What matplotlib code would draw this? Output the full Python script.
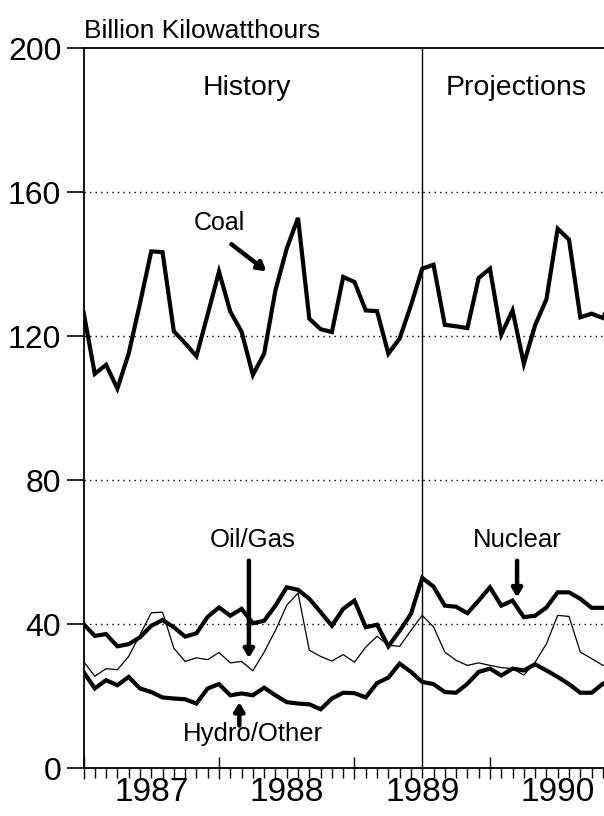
import numpy as np
import matplotlib
matplotlib.use('Agg')
import matplotlib.pyplot as plt
from matplotlib.ticker import FixedLocator

plt.rcParams['font.family'] = ['Liberation Sans', 'DejaVu Sans']

# monthly values, Jan 1987 onward (billion kWh)
coal = [126.7, 109.5, 112.0, 105.4, 115.1, 129.0, 143.5, 143.3, 121.3, 118.0,
        114.4, 126.0, 137.9, 126.8, 121.2, 109.2, 115.1, 132.7, 144.3, 152.8,
        124.8, 121.9, 121.1, 136.4, 135.0, 127.1, 126.9, 115.1, 119.3, 128.5,
        138.7, 139.8, 123.1, 122.7, 122.2, 136.1, 138.7, 120.4, 127.1, 112.3,
        123.0, 130.2, 149.8, 146.8, 125.2, 126.2, 125.0, 131.0]
nuclear = [40.0, 36.7, 37.2, 33.8, 34.4, 36.3, 39.5, 41.1, 39.1, 36.5,
           37.4, 42.0, 44.6, 42.3, 44.2, 40.2, 40.9, 45.1, 50.2, 49.5,
           47.0, 43.3, 39.5, 44.2, 46.5, 39.1, 39.8, 33.8, 38.1, 42.8,
           52.8, 50.4, 45.1, 44.8, 43.0, 46.5, 50.2, 45.1, 46.5, 41.9,
           42.3, 44.6, 48.8, 48.8, 47.0, 44.5, 44.5, 44.5]
oil_gas = [29.6, 25.5, 27.6, 27.3, 31.0, 37.0, 43.1, 43.3, 33.3, 29.6,
           30.6, 30.1, 32.1, 29.2, 29.6, 27.0, 32.2, 38.2, 45.2, 48.6,
           32.7, 31.0, 29.7, 31.5, 29.4, 33.6, 36.6, 34.1, 33.8, 38.2,
           42.4, 39.2, 32.2, 29.9, 28.5, 29.2, 28.5, 27.9, 27.6, 25.8,
           29.4, 34.5, 42.4, 42.1, 32.2, 30.4, 28.5, 28.0]
hydro = [26.7, 22.1, 24.4, 23.0, 25.3, 22.1, 21.1, 19.6, 19.3, 19.1,
         17.9, 22.1, 23.3, 20.2, 20.7, 20.2, 22.3, 20.2, 18.3, 17.9,
         17.7, 16.3, 19.3, 20.9, 20.8, 19.6, 23.6, 25.1, 29.0, 26.7,
         23.9, 23.3, 21.1, 20.9, 23.4, 26.7, 27.6, 25.7, 27.6, 27.1,
         28.8, 27.1, 25.3, 23.3, 20.9, 20.9, 23.4, 25.0]
years = ['1987', '1988', '1989', '1990']
yticks = [0, 40, 80, 120, 160, 200]
split_month = 30

months = np.arange(len(coal))

fig = plt.figure(figsize=(6.04, 8.16), dpi=100)
ax = fig.add_axes([83.5 / 604, 48 / 816, 1 - 83.5 / 604, 720 / 816])

ax.plot(months, oil_gas, color='black', lw=0.9)
ax.plot(months, hydro, color='black', lw=3.0, solid_joinstyle='miter')
ax.plot(months, nuclear, color='black', lw=3.0, solid_joinstyle='miter')
ax.plot(months, coal, color='black', lw=3.0, solid_joinstyle='miter')

ax.set_xlim(0, 46.1)
ax.set_ylim(0, 200)
ax.axvline(split_month, color='black', lw=1.0)

for v in yticks[1:-1]:
    ax.axhline(v, color='black', lw=1.0, linestyle=(0, (1, 3)), zorder=0)

ax.set_yticks(yticks)
ax.tick_params(axis='y', direction='out', length=12, width=1.2, labelsize=23, pad=4)
ax.xaxis.set_major_locator(FixedLocator([0, 12, 24, 36]))
ax.xaxis.set_minor_locator(FixedLocator(range(0, 47)))
ax.tick_params(axis='x', which='major', direction='inout', length=16, width=1.0,
               labelbottom=False)
ax.tick_params(axis='x', which='minor', direction='out', length=7, width=1.0)

for i, yr in enumerate(years):
    ax.text(i * 12 + 6, -0.013, yr, transform=ax.get_xaxis_transform(),
            ha='center', va='top', fontsize=24)

ax.spines['right'].set_visible(False)
for s in ['left', 'bottom', 'top']:
    ax.spines[s].set_linewidth(1.3)

fig.text(84 / 604, 1 - 31 / 816, 'Billion Kilowatthours', fontsize=19,
         ha='left', va='center')

ax.text(14.5, 189, 'History', fontsize=20.5, ha='center', va='center')
ax.text(38.3, 189, 'Projections', fontsize=20.5, ha='center', va='center')

arrow = dict(arrowstyle='-|>,head_length=0.5,head_width=0.3', lw=3.2,
             color='black', shrinkA=0, shrinkB=0)
ax.text(12.0, 151.4, 'Coal', fontsize=18, ha='center', va='center')
ax.annotate('', xy=(16.2, 138.0), xytext=(13.1, 145.5), arrowprops=arrow)

ax.text(15.0, 63.3, 'Oil/Gas', fontsize=18.5, ha='center', va='center')
ax.annotate('', xy=(14.65, 30.5), xytext=(14.65, 57.6), arrowprops=arrow)

ax.text(38.4, 63.3, 'Nuclear', fontsize=18.5, ha='center', va='center')
ax.annotate('', xy=(38.4, 47.4), xytext=(38.4, 57.6), arrowprops=arrow)

ax.text(15.0, 9.4, 'Hydro/Other', fontsize=18.5, ha='center', va='center')
ax.annotate('', xy=(13.8, 18.3), xytext=(13.8, 11.8), arrowprops=arrow)

fig.savefig('out.png', dpi=100)
